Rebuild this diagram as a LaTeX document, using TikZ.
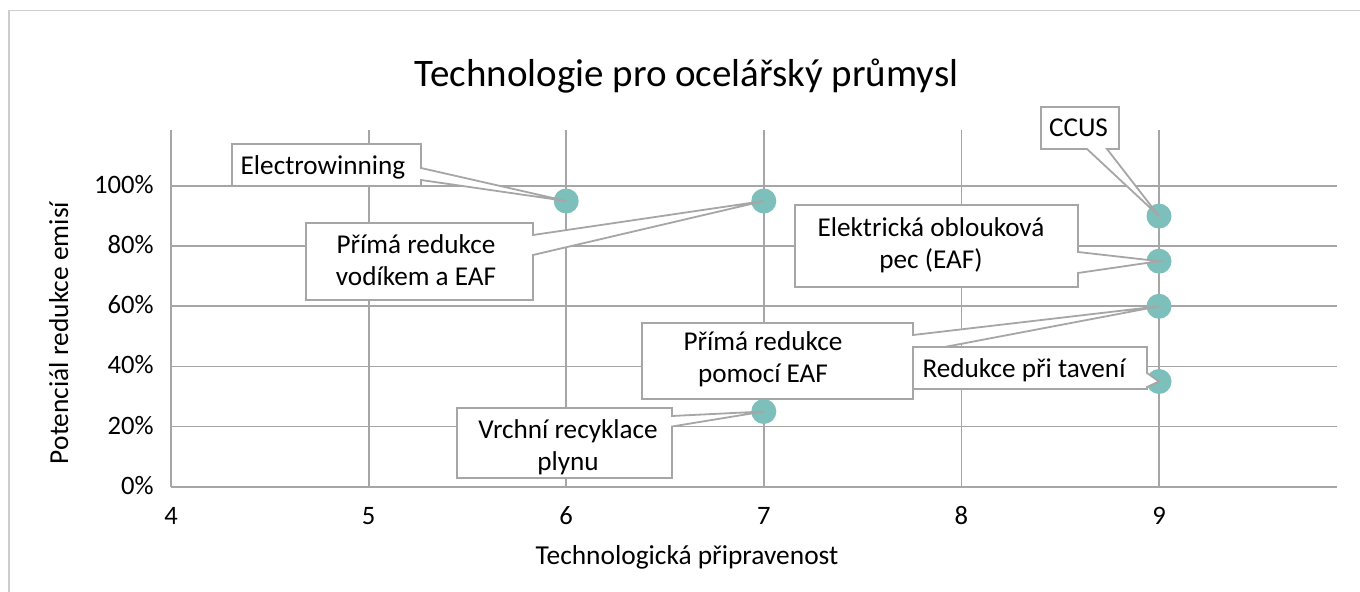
\documentclass[tikz,border=0pt]{standalone}
\usepackage{fontspec}
\setmainfont{Carlito}
\definecolor{gridgray}{HTML}{A6A6A6}
\definecolor{framegray}{HTML}{CDCDCD}
\definecolor{markerteal}{HTML}{7DBFBA}

\begin{document}
\begin{tikzpicture}[x=0.5pt,y=-0.5pt,
    grid line/.style={gridgray, line width=0.9pt},
    marker/.style={fill=markerteal},
    callout/.style={draw=gridgray, line width=0.9pt, fill=white},
    label text/.style={font=\fontsize{13.6}{16}\selectfont, align=center, inner sep=0pt},
    tick/.style={font=\fontsize{13.3}{16}\selectfont, inner sep=0pt},
    axis title/.style={font=\fontsize{13.7}{16}\selectfont, inner sep=0pt}]
    \useasboundingbox (0,0) rectangle (1360,592);
    % Frame
    \draw[framegray, line width=0.75pt] (9,592) -- (9,10.5) -- (1360,10.5);
    % Grid
    \foreach \k in {0,...,5} {
      \draw[grid line] (171,{486.7-60.14*\k}) -- (1337,{486.7-60.14*\k});
      \draw[grid line] ({171+197.6*\k},130) -- ({171+197.6*\k},486.7);
    }
    % Ticks
    \foreach \k/\pct in {0/0,1/20,2/40,3/60,4/80,5/100} {
      \node[tick, anchor=base east] (ytick\k) at (154,{494.2-60.14*\k}) {\pct\%};
    }
    \foreach \k/\trl in {0/4,1/5,2/6,3/7,4/8,5/9} {
      \node[tick, anchor=base] (xtick\k) at ({171+197.6*\k},525) {\trl};
    }
    % Data points (readiness, reduction)
    \coordinate (ew) at (566.2,201.0);     % 6, 95%
    \coordinate (hdri) at (763.8,201.0);   % 7, 95%
    \coordinate (ccus) at (1159.0,216.1);  % 9, 90%
    \coordinate (eaf) at (1159.0,261.2);   % 9, 75%
    \coordinate (dri) at (1159.0,306.3);   % 9, 60%
    \coordinate (smelt) at (1159.0,381.5); % 9, 35%
    \coordinate (tgr) at (763.8,411.5);    % 7, 25%
    \foreach \p in {ew,hdri,ccus,eaf,dri,smelt,tgr} {
      \fill[marker] (\p) circle[radius=6.25pt];
    }
    % Callouts
    \draw[callout] (232,144) -- (421,144) -- (421,168) -- (ew) -- (421,180) -- (421,186) -- (232,186) -- cycle;
    \draw[callout] (306,223) -- (533,223) -- (533,235) -- (hdri) -- (533,255) -- (533,300) -- (306,300) -- cycle;
    \draw[callout] (795,205) -- (1078,205) -- (1078,252) -- (eaf) -- (1078,273) -- (1078,287) -- (795,287) -- cycle;
    \draw[callout] (1041,107) -- (1119,107) -- (1119,149) -- (1107,149) -- (ccus) -- (1087,149) -- (1041,149) -- cycle;
    \draw[callout] (642,323) -- (913,323) -- (913,335) -- (dri) -- (913,353) -- (913,399) -- (642,399) -- cycle;
    \draw[callout] (913,347) -- (1147,347) -- (1147,373) -- (smelt) -- (1147,387) -- (1147,389) -- (913,389) -- cycle;
    \draw[callout] (457,408) -- (672,408) -- (672,416) -- (tgr) -- (672,426.5) -- (672,478) -- (457,478) -- cycle;
    % Labels
    \node[label text, anchor=base] (ewtext) at (323,175) {Electrowinning};
    \node[label text] (hdritext) at (416,260) {Přímá redukce\\vodíkem a EAF};
    \node[label text] (eaftext) at (931,245) {Elektrická oblouková\\pec (EAF)};
    \node[label text, anchor=base] (ccustext) at (1078.5,136.7) {CCUS};
    \node[label text] (dritext) at (763,359.5) {Přímá redukce\\pomocí EAF};
    \node[label text, anchor=base] (smelttext) at (1024,377.3) {Redukce při tavení};
    \node[label text] (tgrtext) at (568,447.5) {Vrchní recyklace\\plynu};
    % Titles
    \node[font=\fontsize{19.5}{23}\selectfont, anchor=base, inner sep=0pt] (title) at (686.5,87) {Technologie pro ocelářský průmysl};
    \node[axis title, anchor=base] (xtitle) at (687,565) {Technologická připravenost};
    \node[axis title, anchor=base, rotate=90] (ytitle) at (68,333) {Potenciál redukce emisí};
\end{tikzpicture}
\end{document}
